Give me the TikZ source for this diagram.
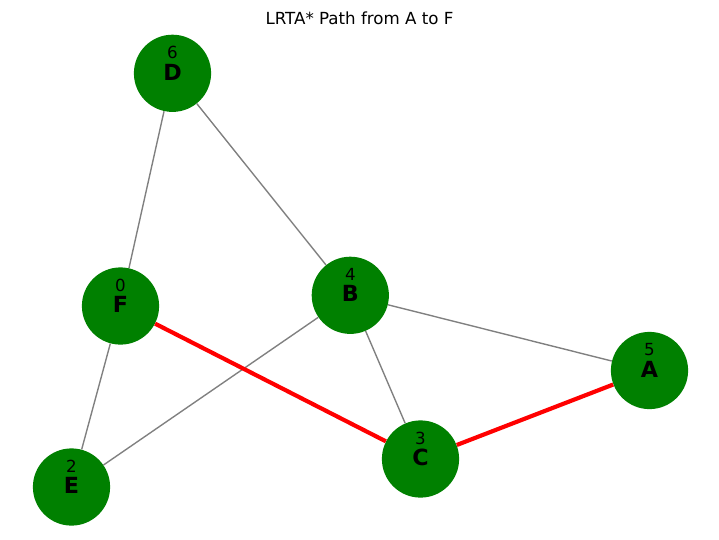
\documentclass[tikz,border=0pt]{standalone}
\usepackage{fontspec}
\setmainfont{DejaVu Sans}
\definecolor{nxgreen}{RGB}{0,128,0}
\definecolor{nxgray}{RGB}{128,128,128}
\definecolor{nxred}{RGB}{255,0,0}
\begin{document}
\begin{tikzpicture}[x=0.72pt,y=-0.72pt,
  vertex/.style={circle,fill=nxgreen,draw=none,minimum size=55.6pt,inner sep=0pt},
  hval/.style={inner sep=0pt,font=\fontsize{12}{14}\selectfont},
  vname/.style={inner sep=0pt,font=\fontsize{16}{18}\selectfont\bfseries},
  plain/.style={draw=nxgray,line width=1pt},
  path/.style={draw=nxred,line width=3pt},
  title/.style={inner sep=0pt,anchor=base,font=\fontsize{12}{14}\selectfont}]
\useasboundingbox (0,0) rectangle (719,540);
\node[title] (T) at (359.5,24) {LRTA* Path from A to F};
% node circles
\node[vertex] (D) at (172.5,73.3) {};
\node[vertex] (F) at (120.5,306) {};
\node[vertex] (B) at (350.3,295.3) {};
\node[vertex] (A) at (649.5,370.5) {};
\node[vertex] (C) at (420.5,459) {};
\node[vertex] (E) at (71.5,487) {};
% edges
\draw[plain] (D) -- (F);
\draw[plain] (D) -- (B);
\draw[plain] (F) -- (E);
\draw[plain] (E) -- (B);
\draw[plain] (B) -- (C);
\draw[plain] (B) -- (A);
\draw[path] (F) -- (C);
\draw[path] (C) -- (A);
% labels
\node[hval] (Dh) at (172.5,52.5) {6};
\node[vname] (Dl) at (172.5,72) {D};
\node[hval] (Fh) at (120.5,285) {0};
\node[vname] (Fl) at (120.5,304.5) {F};
\node[hval] (Bh) at (350.3,274.3) {4};
\node[vname] (Bl) at (350.3,293.8) {B};
\node[hval] (Ah) at (649.5,349.5) {5};
\node[vname] (Al) at (649.5,369) {A};
\node[hval] (Ch) at (420.5,438) {3};
\node[vname] (Cl) at (420.5,457.5) {C};
\node[hval] (Eh) at (71.5,466) {2};
\node[vname] (El) at (71.5,485.5) {E};
\end{tikzpicture}
\end{document}
